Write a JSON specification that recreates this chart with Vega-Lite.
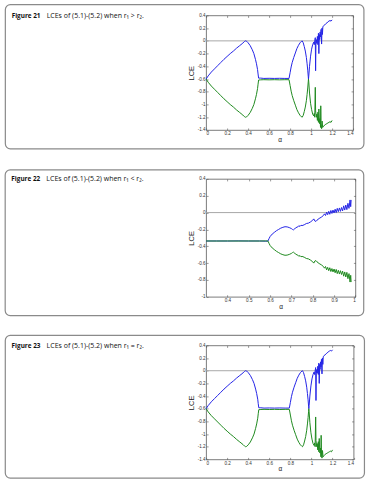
{
  "$schema": "https://vega.github.io/schema/vega-lite/v6.json",
  "padding": {"left": 4.1, "top": 3.4, "right": 0, "bottom": 0},
  "config": {
    "view": {"stroke": "#5a5a5a", "strokeWidth": 0.8},
    "axis": {"domain": false, "grid": false, "tickSize": -2, "tickColor": "#555", "tickWidth": 0.6, "labelFont": "Liberation Sans", "labelFontSize": 4.6, "labelColor": "#333", "labelPadding": 3, "titleFont": "Liberation Sans", "titleFontWeight": "normal", "titleColor": "#222"},
    "text": {"font": "Open Sans"}
  },
  "datasets": {
    "p1": [
      {"a":0,"v":-0.6,"s":"b"},{"a":0.02,"v":-0.55,"s":"b"},{"a":0.05,"v":-0.49,"s":"b"},{"a":0.08,"v":-0.44,"s":"b"},{"a":0.11,"v":-0.39,"s":"b"},{"a":0.14,"v":-0.34,"s":"b"},{"a":0.17,"v":-0.29,"s":"b"},{"a":0.2,"v":-0.245,"s":"b"},{"a":0.23,"v":-0.2,"s":"b"},{"a":0.26,"v":-0.16,"s":"b"},{"a":0.29,"v":-0.115,"s":"b"},{"a":0.32,"v":-0.075,"s":"b"},{"a":0.35,"v":-0.035,"s":"b"},{"a":0.365,"v":-0.01,"s":"b"},{"a":0.375,"v":0.0,"s":"b"},{"a":0.385,"v":-0.005,"s":"b"},{"a":0.4,"v":-0.03,"s":"b"},{"a":0.42,"v":-0.075,"s":"b"},{"a":0.44,"v":-0.14,"s":"b"},{"a":0.455,"v":-0.2,"s":"b"},{"a":0.47,"v":-0.29,"s":"b"},{"a":0.48,"v":-0.36,"s":"b"},{"a":0.49,"v":-0.45,"s":"b"},{"a":0.495,"v":-0.52,"s":"b"},{"a":0.5,"v":-0.585,"s":"b"},{"a":0.52,"v":-0.585,"s":"b"},{"a":0.55,"v":-0.59,"s":"b"},{"a":0.6,"v":-0.588,"s":"b"},{"a":0.65,"v":-0.59,"s":"b"},{"a":0.7,"v":-0.588,"s":"b"},{"a":0.75,"v":-0.59,"s":"b"},{"a":0.79,"v":-0.59,"s":"b"},{"a":0.8,"v":-0.5,"s":"b"},{"a":0.81,"v":-0.41,"s":"b"},{"a":0.82,"v":-0.34,"s":"b"},{"a":0.835,"v":-0.26,"s":"b"},{"a":0.85,"v":-0.19,"s":"b"},{"a":0.865,"v":-0.12,"s":"b"},{"a":0.88,"v":-0.07,"s":"b"},{"a":0.895,"v":-0.03,"s":"b"},{"a":0.91,"v":-0.005,"s":"b"},{"a":0.915,"v":0.0,"s":"b"},{"a":0.925,"v":-0.03,"s":"b"},{"a":0.935,"v":-0.09,"s":"b"},{"a":0.945,"v":-0.16,"s":"b"},{"a":0.955,"v":-0.26,"s":"b"},{"a":0.962,"v":-0.36,"s":"b"},{"a":0.968,"v":-0.46,"s":"b"},{"a":0.973,"v":-0.56,"s":"b"},{"a":0.975,"v":-0.6,"s":"b"},{"a":0.978,"v":-0.55,"s":"b"},{"a":0.985,"v":-0.4,"s":"b"},{"a":0.995,"v":-0.24,"s":"b"},{"a":1.005,"v":-0.13,"s":"b"},{"a":1.015,"v":-0.06,"s":"b"},{"a":1.025,"v":-0.02,"s":"b"},{"a":1.03,"v":-0.06,"s":"b"},{"a":1.035,"v":0.0,"s":"b"},{"a":1.04,"v":0.05,"s":"b"},{"a":1.043,"v":-0.47,"s":"b"},{"a":1.046,"v":-0.05,"s":"b"},{"a":1.05,"v":0.02,"s":"b"},{"a":1.055,"v":-0.04,"s":"b"},{"a":1.06,"v":0.07,"s":"b"},{"a":1.065,"v":-0.06,"s":"b"},{"a":1.07,"v":0.12,"s":"b"},{"a":1.074,"v":-0.2,"s":"b"},{"a":1.078,"v":0.1,"s":"b"},{"a":1.082,"v":0.02,"s":"b"},{"a":1.086,"v":0.14,"s":"b"},{"a":1.09,"v":0.06,"s":"b"},{"a":1.095,"v":0.18,"s":"b"},{"a":1.1,"v":-0.05,"s":"b"},{"a":1.104,"v":0.2,"s":"b"},{"a":1.108,"v":0.1,"s":"b"},{"a":1.112,"v":0.22,"s":"b"},{"a":1.12,"v":0.24,"s":"b"},{"a":1.13,"v":0.25,"s":"b"},{"a":1.14,"v":0.27,"s":"b"},{"a":1.15,"v":0.28,"s":"b"},{"a":1.16,"v":0.3,"s":"b"},{"a":1.17,"v":0.31,"s":"b"},{"a":1.18,"v":0.32,"s":"b"},{"a":1.19,"v":0.31,"s":"b"},{"a":1.2,"v":0.33,"s":"b"},
      {"a":0,"v":-0.6,"s":"g"},{"a":0.02,"v":-0.65,"s":"g"},{"a":0.05,"v":-0.71,"s":"g"},{"a":0.08,"v":-0.76,"s":"g"},{"a":0.11,"v":-0.81,"s":"g"},{"a":0.14,"v":-0.86,"s":"g"},{"a":0.17,"v":-0.91,"s":"g"},{"a":0.2,"v":-0.955,"s":"g"},{"a":0.23,"v":-1.0,"s":"g"},{"a":0.26,"v":-1.04,"s":"g"},{"a":0.29,"v":-1.085,"s":"g"},{"a":0.32,"v":-1.125,"s":"g"},{"a":0.35,"v":-1.165,"s":"g"},{"a":0.365,"v":-1.19,"s":"g"},{"a":0.375,"v":-1.2,"s":"g"},{"a":0.385,"v":-1.195,"s":"g"},{"a":0.4,"v":-1.17,"s":"g"},{"a":0.42,"v":-1.125,"s":"g"},{"a":0.44,"v":-1.06,"s":"g"},{"a":0.455,"v":-1.0,"s":"g"},{"a":0.47,"v":-0.91,"s":"g"},{"a":0.48,"v":-0.84,"s":"g"},{"a":0.49,"v":-0.75,"s":"g"},{"a":0.495,"v":-0.68,"s":"g"},{"a":0.5,"v":-0.615,"s":"g"},{"a":0.52,"v":-0.612,"s":"g"},{"a":0.55,"v":-0.61,"s":"g"},{"a":0.6,"v":-0.612,"s":"g"},{"a":0.65,"v":-0.61,"s":"g"},{"a":0.7,"v":-0.612,"s":"g"},{"a":0.75,"v":-0.61,"s":"g"},{"a":0.79,"v":-0.61,"s":"g"},{"a":0.8,"v":-0.7,"s":"g"},{"a":0.81,"v":-0.79,"s":"g"},{"a":0.82,"v":-0.86,"s":"g"},{"a":0.835,"v":-0.94,"s":"g"},{"a":0.85,"v":-1.01,"s":"g"},{"a":0.865,"v":-1.08,"s":"g"},{"a":0.88,"v":-1.13,"s":"g"},{"a":0.895,"v":-1.17,"s":"g"},{"a":0.91,"v":-1.195,"s":"g"},{"a":0.915,"v":-1.2,"s":"g"},{"a":0.925,"v":-1.17,"s":"g"},{"a":0.935,"v":-1.11,"s":"g"},{"a":0.945,"v":-1.04,"s":"g"},{"a":0.955,"v":-0.94,"s":"g"},{"a":0.962,"v":-0.84,"s":"g"},{"a":0.968,"v":-0.74,"s":"g"},{"a":0.973,"v":-0.64,"s":"g"},{"a":0.975,"v":-0.6,"s":"g"},{"a":0.978,"v":-0.65,"s":"g"},{"a":0.985,"v":-0.82,"s":"g"},{"a":0.995,"v":-0.98,"s":"g"},{"a":1.005,"v":-1.08,"s":"g"},{"a":1.015,"v":-1.15,"s":"g"},{"a":1.025,"v":-1.18,"s":"g"},{"a":1.03,"v":-1.14,"s":"g"},{"a":1.035,"v":-1.2,"s":"g"},{"a":1.04,"v":-0.73,"s":"g"},{"a":1.043,"v":-1.1,"s":"g"},{"a":1.05,"v":-1.2,"s":"g"},{"a":1.055,"v":-1.15,"s":"g"},{"a":1.06,"v":-1.25,"s":"g"},{"a":1.065,"v":-1.12,"s":"g"},{"a":1.07,"v":-1.28,"s":"g"},{"a":1.074,"v":-1.07,"s":"g"},{"a":1.08,"v":-1.3,"s":"g"},{"a":1.085,"v":-1.22,"s":"g"},{"a":1.09,"v":-1.36,"s":"g"},{"a":1.092,"v":-1.02,"s":"g"},{"a":1.095,"v":-1.3,"s":"g"},{"a":1.1,"v":-1.38,"s":"g"},{"a":1.105,"v":-1.26,"s":"g"},{"a":1.11,"v":-1.36,"s":"g"},{"a":1.12,"v":-1.34,"s":"g"},{"a":1.13,"v":-1.32,"s":"g"},{"a":1.14,"v":-1.31,"s":"g"},{"a":1.15,"v":-1.3,"s":"g"},{"a":1.16,"v":-1.29,"s":"g"},{"a":1.17,"v":-1.28,"s":"g"},{"a":1.18,"v":-1.27,"s":"g"},{"a":1.19,"v":-1.28,"s":"g"},{"a":1.2,"v":-1.25,"s":"g"}
    ],
    "p2": [
      {"a":0.3,"v":-0.338,"s":"b"},{"a":0.35,"v":-0.337,"s":"b"},{"a":0.4,"v":-0.338,"s":"b"},{"a":0.45,"v":-0.336,"s":"b"},{"a":0.5,"v":-0.338,"s":"b"},{"a":0.55,"v":-0.337,"s":"b"},{"a":0.58,"v":-0.34,"s":"b"},{"a":0.59,"v":-0.338,"s":"b"},{"a":0.595,"v":-0.31,"s":"b"},{"a":0.6,"v":-0.285,"s":"b"},{"a":0.61,"v":-0.255,"s":"b"},{"a":0.62,"v":-0.235,"s":"b"},{"a":0.63,"v":-0.215,"s":"b"},{"a":0.64,"v":-0.2,"s":"b"},{"a":0.65,"v":-0.185,"s":"b"},{"a":0.66,"v":-0.175,"s":"b"},{"a":0.67,"v":-0.168,"s":"b"},{"a":0.68,"v":-0.17,"s":"b"},{"a":0.69,"v":-0.178,"s":"b"},{"a":0.7,"v":-0.19,"s":"b"},{"a":0.705,"v":-0.2,"s":"b"},{"a":0.71,"v":-0.205,"s":"b"},{"a":0.715,"v":-0.195,"s":"b"},{"a":0.72,"v":-0.18,"s":"b"},{"a":0.73,"v":-0.17,"s":"b"},{"a":0.735,"v":-0.155,"s":"b"},{"a":0.74,"v":-0.165,"s":"b"},{"a":0.745,"v":-0.15,"s":"b"},{"a":0.75,"v":-0.155,"s":"b"},{"a":0.76,"v":-0.145,"s":"b"},{"a":0.77,"v":-0.13,"s":"b"},{"a":0.78,"v":-0.125,"s":"b"},{"a":0.79,"v":-0.11,"s":"b"},{"a":0.8,"v":-0.09,"s":"b"},{"a":0.805,"v":-0.075,"s":"b"},{"a":0.81,"v":-0.1,"s":"b"},{"a":0.815,"v":-0.105,"s":"b"},{"a":0.82,"v":-0.09,"s":"b"},{"a":0.83,"v":-0.07,"s":"b"},{"a":0.84,"v":-0.055,"s":"b"},{"a":0.85,"v":-0.035,"s":"b"},{"a":0.855,"v":-0.015,"s":"b"},{"a":0.86,"v":-0.035,"s":"b"},{"a":0.865,"v":0.005,"s":"b"},{"a":0.87,"v":-0.025,"s":"b"},{"a":0.875,"v":0.015,"s":"b"},{"a":0.88,"v":-0.02,"s":"b"},{"a":0.885,"v":0.025,"s":"b"},{"a":0.89,"v":-0.01,"s":"b"},{"a":0.895,"v":0.03,"s":"b"},{"a":0.9,"v":-0.005,"s":"b"},{"a":0.905,"v":0.04,"s":"b"},{"a":0.91,"v":0.0,"s":"b"},{"a":0.915,"v":0.05,"s":"b"},{"a":0.92,"v":0.01,"s":"b"},{"a":0.925,"v":0.055,"s":"b"},{"a":0.93,"v":0.015,"s":"b"},{"a":0.935,"v":0.06,"s":"b"},{"a":0.94,"v":0.02,"s":"b"},{"a":0.945,"v":0.08,"s":"b"},{"a":0.95,"v":0.03,"s":"b"},{"a":0.955,"v":0.09,"s":"b"},{"a":0.96,"v":0.035,"s":"b"},{"a":0.965,"v":0.11,"s":"b"},{"a":0.97,"v":0.05,"s":"b"},{"a":0.975,"v":0.15,"s":"b"},{"a":0.978,"v":0.07,"s":"b"},{"a":0.98,"v":0.15,"s":"b"},
      {"a":0.3,"v":-0.337,"s":"g"},{"a":0.35,"v":-0.338,"s":"g"},{"a":0.4,"v":-0.337,"s":"g"},{"a":0.45,"v":-0.338,"s":"g"},{"a":0.5,"v":-0.337,"s":"g"},{"a":0.55,"v":-0.338,"s":"g"},{"a":0.58,"v":-0.336,"s":"g"},{"a":0.59,"v":-0.338,"s":"g"},{"a":0.595,"v":-0.365,"s":"g"},{"a":0.6,"v":-0.39,"s":"g"},{"a":0.61,"v":-0.42,"s":"g"},{"a":0.62,"v":-0.44,"s":"g"},{"a":0.63,"v":-0.46,"s":"g"},{"a":0.64,"v":-0.475,"s":"g"},{"a":0.65,"v":-0.49,"s":"g"},{"a":0.66,"v":-0.5,"s":"g"},{"a":0.67,"v":-0.507,"s":"g"},{"a":0.68,"v":-0.505,"s":"g"},{"a":0.69,"v":-0.497,"s":"g"},{"a":0.7,"v":-0.485,"s":"g"},{"a":0.705,"v":-0.475,"s":"g"},{"a":0.71,"v":-0.47,"s":"g"},{"a":0.715,"v":-0.48,"s":"g"},{"a":0.72,"v":-0.495,"s":"g"},{"a":0.73,"v":-0.505,"s":"g"},{"a":0.735,"v":-0.52,"s":"g"},{"a":0.74,"v":-0.51,"s":"g"},{"a":0.745,"v":-0.525,"s":"g"},{"a":0.75,"v":-0.52,"s":"g"},{"a":0.76,"v":-0.53,"s":"g"},{"a":0.77,"v":-0.545,"s":"g"},{"a":0.78,"v":-0.55,"s":"g"},{"a":0.79,"v":-0.565,"s":"g"},{"a":0.8,"v":-0.585,"s":"g"},{"a":0.805,"v":-0.6,"s":"g"},{"a":0.81,"v":-0.575,"s":"g"},{"a":0.815,"v":-0.57,"s":"g"},{"a":0.82,"v":-0.585,"s":"g"},{"a":0.83,"v":-0.605,"s":"g"},{"a":0.84,"v":-0.62,"s":"g"},{"a":0.85,"v":-0.64,"s":"g"},{"a":0.855,"v":-0.66,"s":"g"},{"a":0.86,"v":-0.64,"s":"g"},{"a":0.865,"v":-0.68,"s":"g"},{"a":0.87,"v":-0.65,"s":"g"},{"a":0.875,"v":-0.69,"s":"g"},{"a":0.88,"v":-0.655,"s":"g"},{"a":0.885,"v":-0.7,"s":"g"},{"a":0.89,"v":-0.665,"s":"g"},{"a":0.895,"v":-0.705,"s":"g"},{"a":0.9,"v":-0.67,"s":"g"},{"a":0.905,"v":-0.715,"s":"g"},{"a":0.91,"v":-0.675,"s":"g"},{"a":0.915,"v":-0.725,"s":"g"},{"a":0.92,"v":-0.685,"s":"g"},{"a":0.925,"v":-0.73,"s":"g"},{"a":0.93,"v":-0.69,"s":"g"},{"a":0.935,"v":-0.735,"s":"g"},{"a":0.94,"v":-0.695,"s":"g"},{"a":0.945,"v":-0.755,"s":"g"},{"a":0.95,"v":-0.705,"s":"g"},{"a":0.955,"v":-0.765,"s":"g"},{"a":0.96,"v":-0.71,"s":"g"},{"a":0.965,"v":-0.785,"s":"g"},{"a":0.97,"v":-0.725,"s":"g"},{"a":0.975,"v":-0.825,"s":"g"},{"a":0.978,"v":-0.745,"s":"g"},{"a":0.98,"v":-0.825,"s":"g"}
    ]
  },
  "vconcat": [
    {
      "width": 147, "height": 114.6,
      "resolve": {"axis": {"x": "independent", "y": "independent"}},
      "layer": [
        {"data": {"values": [{}]}, "mark": {"type": "rect", "filled": false, "cornerRadius": 5, "stroke": "#8a8a8a", "strokeWidth": 1.2},
         "encoding": {"x": {"datum": -1.912, "type": "quantitative", "scale": {"domain": [0, 1.4], "nice": false, "zero": false}, "axis": null}, "x2": {"datum": 1.503}, "y": {"datum": 0.568, "type": "quantitative", "scale": {"domain": [-1.4, 0.4], "nice": false, "zero": false}, "axis": null}, "y2": {"datum": -1.695}}},
        {"data": {"values": [{}]}, "mark": {"type": "text", "align": "left", "baseline": "middle", "fontSize": 6.4, "fontWeight": "bold", "color": "#111"},
         "encoding": {"x": {"datum": -1.852, "type": "quantitative", "axis": null}, "y": {"datum": 0.39, "type": "quantitative", "axis": null}, "text": {"value": "Figure 21"}}},
        {"data": {"values": [{}]}, "mark": {"type": "text", "align": "left", "baseline": "middle", "fontSize": 7, "dx": 35, "color": "#111"},
         "encoding": {"x": {"datum": -1.852, "type": "quantitative", "axis": null}, "y": {"datum": 0.39, "type": "quantitative", "axis": null}, "text": {"value": "LCEs of (5.1)-(5.2) when r₁ > r₂."}}},
        {"data": {"values": [{}]}, "mark": {"type": "rule", "color": "#a8a8a8", "strokeWidth": 1},
         "encoding": {"y": {"datum": 0, "type": "quantitative", "axis": null}}},
        {"data": {"name": "p1"}, "transform": [{"filter": "datum.s == 'b'"}],
         "mark": {"type": "line", "color": "#2424e6", "strokeWidth": 1},
         "encoding": {
           "x": {"field": "a", "type": "quantitative", "axis": {"values": [0, 0.2, 0.4, 0.6, 0.8, 1, 1.2, 1.4], "labelExpr": "replace(format(datum.value, '.1~f'), '\u2212', '-')", "title": "α", "titleFontSize": 6.5, "titlePadding": 1}},
           "y": {"field": "v", "type": "quantitative", "axis": {"values": [0.4, 0.2, 0, -0.2, -0.4, -0.6, -0.8, -1, -1.2, -1.4], "labelExpr": "replace(format(datum.value, '.1~f'), '\u2212', '-')", "title": "LCE", "titleFontSize": 7.5, "titlePadding": 2}}}},
        {"data": {"name": "p1"}, "transform": [{"filter": "datum.s == 'g'"}],
         "mark": {"type": "line", "color": "#1f8a1f", "strokeWidth": 1},
         "encoding": {
           "x": {"field": "a", "type": "quantitative", "axis": {"orient": "top", "labels": false, "title": null, "values": [0, 0.2, 0.4, 0.6, 0.8, 1, 1.2, 1.4]}},
           "y": {"field": "v", "type": "quantitative", "axis": {"orient": "right", "labels": false, "title": null, "values": [0.4, 0.2, 0, -0.2, -0.4, -0.6, -0.8, -1, -1.2, -1.4]}}}}
      ]
    },
    {
      "width": 149.3, "height": 117.9,
      "resolve": {"axis": {"x": "independent", "y": "independent"}},
      "layer": [
        {"data": {"values": [{}]}, "mark": {"type": "rect", "filled": false, "cornerRadius": 5, "stroke": "#8a8a8a", "strokeWidth": 1.2},
         "encoding": {"x": {"datum": -0.642, "type": "quantitative", "scale": {"domain": [0.3, 1], "nice": false, "zero": false}, "axis": null}, "x2": {"datum": 1.039}, "y": {"datum": 0.507, "type": "quantitative", "scale": {"domain": [-1, 0.4], "nice": false, "zero": false}, "axis": null}, "y2": {"datum": -1.223}}},
        {"data": {"values": [{}]}, "mark": {"type": "text", "align": "left", "baseline": "middle", "fontSize": 6.4, "fontWeight": "bold", "color": "#111"},
         "encoding": {"x": {"datum": -0.613, "type": "quantitative", "axis": null}, "y": {"datum": 0.396, "type": "quantitative", "axis": null}, "text": {"value": "Figure 22"}}},
        {"data": {"values": [{}]}, "mark": {"type": "text", "align": "left", "baseline": "middle", "fontSize": 7, "dx": 35, "color": "#111"},
         "encoding": {"x": {"datum": -0.613, "type": "quantitative", "axis": null}, "y": {"datum": 0.396, "type": "quantitative", "axis": null}, "text": {"value": "LCEs of (5.1)-(5.2) when r₁ < r₂."}}},
        {"data": {"values": [{}]}, "mark": {"type": "rule", "color": "#a8a8a8", "strokeWidth": 1},
         "encoding": {"y": {"datum": 0, "type": "quantitative", "axis": null}}},
        {"data": {"name": "p2"}, "transform": [{"filter": "datum.s == 'b'"}],
         "mark": {"type": "line", "color": "#2424e6", "strokeWidth": 1},
         "encoding": {
           "x": {"field": "a", "type": "quantitative", "axis": {"values": [0.4, 0.5, 0.6, 0.7, 0.8, 0.9, 1], "labelExpr": "replace(format(datum.value, '.1~f'), '\u2212', '-')", "title": "α", "titleFontSize": 6.5, "titlePadding": 1}},
           "y": {"field": "v", "type": "quantitative", "axis": {"values": [0.4, 0.2, 0, -0.2, -0.4, -0.6, -0.8, -1], "labelExpr": "replace(format(datum.value, '.1~f'), '\u2212', '-')", "title": "LCE", "titleFontSize": 7.5, "titlePadding": 2}}}},
        {"data": {"name": "p2"}, "transform": [{"filter": "datum.s == 'g'"}],
         "mark": {"type": "line", "color": "#1f8a1f", "strokeWidth": 1},
         "encoding": {
           "x": {"field": "a", "type": "quantitative", "axis": {"orient": "top", "labels": false, "title": null, "values": [0.4, 0.5, 0.6, 0.7, 0.8, 0.9, 1]}},
           "y": {"field": "v", "type": "quantitative", "axis": {"orient": "right", "labels": false, "title": null, "values": [0.4, 0.2, 0, -0.2, -0.4, -0.6, -0.8, -1]}}}}
      ]
    },
    {
      "width": 147.5, "height": 114,
      "resolve": {"axis": {"x": "independent", "y": "independent"}},
      "layer": [
        {"data": {"values": [{}]}, "mark": {"type": "rect", "filled": false, "cornerRadius": 5, "stroke": "#8a8a8a", "strokeWidth": 1.2},
         "encoding": {"x": {"datum": -1.906, "type": "quantitative", "scale": {"domain": [0, 1.4], "nice": false, "zero": false}, "axis": null}, "x2": {"datum": 1.503}, "y": {"datum": 0.558, "type": "quantitative", "scale": {"domain": [-1.4, 0.4], "nice": false, "zero": false}, "axis": null}, "y2": {"datum": -1.695}}},
        {"data": {"values": [{}]}, "mark": {"type": "text", "align": "left", "baseline": "middle", "fontSize": 6.4, "fontWeight": "bold", "color": "#111"},
         "encoding": {"x": {"datum": -1.846, "type": "quantitative", "axis": null}, "y": {"datum": 0.39, "type": "quantitative", "axis": null}, "text": {"value": "Figure 23"}}},
        {"data": {"values": [{}]}, "mark": {"type": "text", "align": "left", "baseline": "middle", "fontSize": 7, "dx": 35, "color": "#111"},
         "encoding": {"x": {"datum": -1.846, "type": "quantitative", "axis": null}, "y": {"datum": 0.39, "type": "quantitative", "axis": null}, "text": {"value": "LCEs of (5.1)-(5.2) when r₁ = r₂."}}},
        {"data": {"values": [{}]}, "mark": {"type": "rule", "color": "#a8a8a8", "strokeWidth": 1},
         "encoding": {"y": {"datum": 0, "type": "quantitative", "axis": null}}},
        {"data": {"name": "p1"}, "transform": [{"filter": "datum.s == 'b'"}],
         "mark": {"type": "line", "color": "#2424e6", "strokeWidth": 1},
         "encoding": {
           "x": {"field": "a", "type": "quantitative", "axis": {"values": [0, 0.2, 0.4, 0.6, 0.8, 1, 1.2, 1.4], "labelExpr": "replace(format(datum.value, '.1~f'), '\u2212', '-')", "title": "α", "titleFontSize": 6.5, "titlePadding": 1}},
           "y": {"field": "v", "type": "quantitative", "axis": {"values": [0.4, 0.2, 0, -0.2, -0.4, -0.6, -0.8, -1, -1.2, -1.4], "labelExpr": "replace(format(datum.value, '.1~f'), '\u2212', '-')", "title": "LCE", "titleFontSize": 7.5, "titlePadding": 2}}}},
        {"data": {"name": "p1"}, "transform": [{"filter": "datum.s == 'g'"}],
         "mark": {"type": "line", "color": "#1f8a1f", "strokeWidth": 1},
         "encoding": {
           "x": {"field": "a", "type": "quantitative", "axis": {"orient": "top", "labels": false, "title": null, "values": [0, 0.2, 0.4, 0.6, 0.8, 1, 1.2, 1.4]}},
           "y": {"field": "v", "type": "quantitative", "axis": {"orient": "right", "labels": false, "title": null, "values": [0.4, 0.2, 0, -0.2, -0.4, -0.6, -0.8, -1, -1.2, -1.4]}}}}
      ]
    }
  ],
  "spacing": 48.5,
  "bounds": "flush"
}
